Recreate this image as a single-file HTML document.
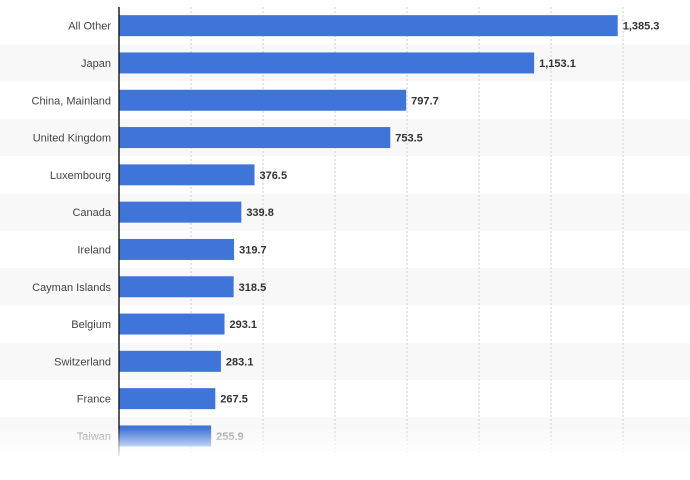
<!DOCTYPE html>
<html><head><meta charset="utf-8"><style>
body{margin:0;background:#fff;width:690px;height:475px;overflow:hidden;font-family:"Liberation Sans",sans-serif}
</style></head><body>
<svg id="c" width="690" height="475">
<defs>
<linearGradient id="fade" x1="0" y1="0" x2="0" y2="1">
<stop offset="0" stop-color="#fff" stop-opacity="0"/><stop offset="0.6" stop-color="#fff" stop-opacity="0.7"/><stop offset="1" stop-color="#fff" stop-opacity="1"/>
</linearGradient>
</defs>
</svg>
<script>
const categories=["All Other","Japan","China, Mainland","United Kingdom","Luxembourg","Canada","Ireland","Cayman Islands","Belgium","Switzerland","France","Taiwan"];
const values=[1385.3,1153.1,797.7,753.5,376.5,339.8,319.7,318.5,293.1,283.1,267.5,255.9];
const labels=["1,385.3","1,153.1","797.7","753.5","376.5","339.8","319.7","318.5","293.1","283.1","267.5","255.9"];
const ticks=[0,200,400,600,800,1000,1200,1400,1600];
const svg=document.getElementById('c');
const NS='http://www.w3.org/2000/svg';
const x0=119,k=72/200,top0=7,band=37.3,barH=21;
const xs=v=>x0+v*k;
function mk(t,a){const e=document.createElementNS(NS,t);for(const n in a)e.setAttribute(n,a[n]);svg.appendChild(e);return e;}
categories.forEach((c,i)=>{if(i%2===1){const r=mk('rect',{x:0,y:top0+i*band,width:690,height:band,fill:'#f8f8f8'});

}});
ticks.forEach(t=>{if(t===0)return;const l=mk('line',{x1:xs(t),x2:xs(t),y1:top0,y2:456,stroke:'#ccc','stroke-dasharray':'2,2'});

});
categories.forEach((c,i)=>{
const cy=top0+i*band+band/2;
const last=i===categories.length-1;
const b=mk('rect',{x:x0,y:cy-barH/2,width:xs(values[i])-x0,height:barH,fill:'#3f74d9'});


const t=mk('text',{x:111,y:cy+4,'text-anchor':'end','font-size':11,fill:last?'#999':'#444'});t.textContent=c;


const v=mk('text',{x:xs(values[i])+5,y:cy+4,'font-size':11,'font-weight':'bold',fill:last?'#999':'#333'});v.textContent=labels[i];


});
const ax=mk('line',{x1:x0,x2:x0,y1:top0,y2:456,stroke:'#222','stroke-width':1.5});


const f=mk('rect',{x:0,y:428,width:690,height:32,fill:'url(#fade)'});


</script>
</body></html>
